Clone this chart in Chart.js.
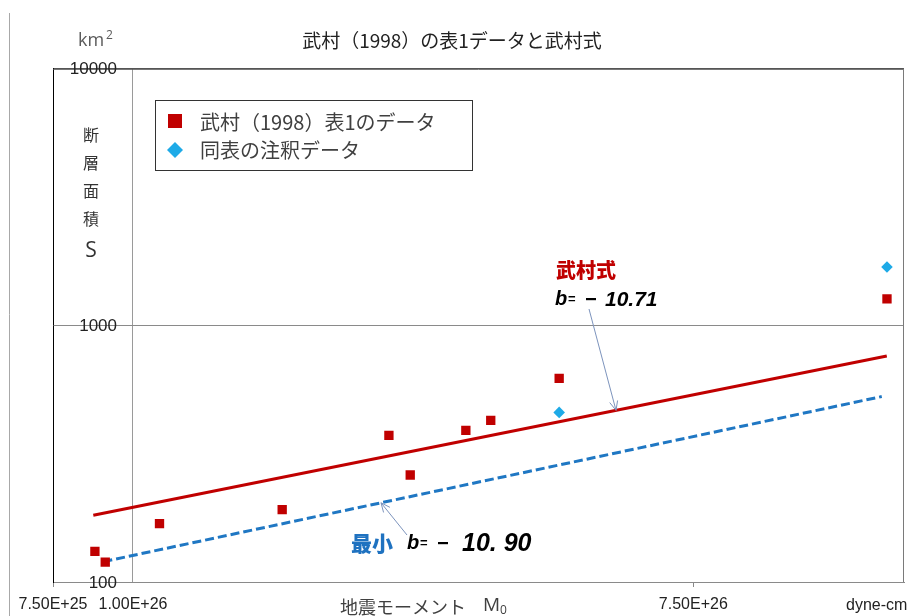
<!DOCTYPE html>
<html>
<head>
<meta charset="utf-8">
<script src="https://cdn.jsdelivr.net/npm/chart.js@4.4.0/dist/chart.umd.min.js"></script>
<style>
  html, body { margin: 0; padding: 0; background: #fff; }
  #wrap { width: 917px; height: 616px; position: relative; }
</style>
</head>
<body>
<div id="wrap"><canvas id="c" width="917" height="616"></canvas></div>
<script>
// ---- data ----
const titleText = '武村（1998）の表1データと武村式';
const seriesNames = ['武村（1998）表1のデータ', '同表の注釈データ', '武村式', '最小'];

// Table 1: seismic moment M0 (dyne-cm) and fault area S (km2)
const tableM0 = [8.72e25, 9.05e25, 1.10e26, 1.71e26, 2.51e26, 2.71e26, 3.31e26, 3.62e26, 4.63e26, 1.505e27];
const tableS  = [131.6, 119.5, 168.8, 191.4, 372.5, 261.3, 389.6, 426.4, 622.0, 1269];

// values from the table notes
const noteM0 = [4.63e26, 1.505e27];
const noteS  = [458, 1688];

// Takemura relation and the minimum-b line (end points)
const takemuraM0 = [8.67e25, 1.504e27];
const takemuraS  = [182, 760];
const minM0 = [8.99e25, 1.477e27];
const minS  = [120, 528];

const takemuraB = '10.71';
const minB = '10. 90';

const xTickValues = [7.5e25, 1e26, 7.5e26];
const xTickLabels = ['7.50E+25', '1.00E+26', '7.50E+26'];
const yTickValues = [100, 1000, 10000];
const yTickLabels = ['100', '1000', '10000'];

const yTitleChars = ['断', '層', '面', '積'];

// ---- helpers ----
const pts = (xs, ys) => xs.map((x, i) => ({ x: x, y: ys[i] }));
const JP = '"Noto Sans CJK JP", "Noto Sans", sans-serif';
const NUM = '"Liberation Sans Narrow", "Liberation Sans", Arial, sans-serif';
const ARIAL = '"Liberation Sans", Arial, sans-serif';

function arrow(ctx, x1, y1, x2, y2) {
  ctx.save();
  ctx.strokeStyle = '#7d94bd';
  ctx.lineWidth = 1;
  ctx.beginPath();
  ctx.moveTo(x1, y1);
  ctx.lineTo(x2, y2);
  const a = Math.atan2(y2 - y1, x2 - x1);
  const L = 10, w = 0.42;
  ctx.moveTo(x2 - L * Math.cos(a - w), y2 - L * Math.sin(a - w));
  ctx.lineTo(x2, y2);
  ctx.lineTo(x2 - L * Math.cos(a + w), y2 - L * Math.sin(a + w));
  ctx.stroke();
  ctx.restore();
}

// pixel y on a two-point line dataset at pixel x
function yOnLine(chart, idx, px) {
  const d = chart.getDatasetMeta(idx).data;
  const p0 = d[0], p1 = d[d.length - 1];
  return p0.y + (p1.y - p0.y) * (px - p0.x) / (p1.x - p0.x);
}

function bText(ctx, x, y, num, numSize, numGap) {
  ctx.fillStyle = '#000';
  ctx.textAlign = 'left';
  ctx.textBaseline = 'middle';
  ctx.font = 'italic bold 20px ' + ARIAL;
  ctx.fillText('b', x, y);
  ctx.font = 'bold 13px ' + ARIAL;
  ctx.fillText('=', x + 13, y);
  ctx.fillRect(x + 31, y - 1, 10, 2.2);
  ctx.font = 'italic bold ' + numSize + 'px ' + ARIAL;
  ctx.fillText(num, x + numGap, y + 1);
}

const decor = {
  id: 'decor',
  beforeDraw(chart) {
    const ctx = chart.ctx;
    ctx.save();
    ctx.fillStyle = '#fff';
    ctx.fillRect(0, 0, chart.width, chart.height);
    ctx.strokeStyle = '#a8a8a8';
    ctx.lineWidth = 1;
    ctx.beginPath();
    ctx.moveTo(9.5, 13);
    ctx.lineTo(9.5, chart.height);
    ctx.stroke();
    ctx.restore();
  },
  afterDraw(chart) {
    const ctx = chart.ctx;
    const a = chart.chartArea;
    ctx.save();

    // plot frame: top and right edges
    ctx.lineWidth = 1;
    ctx.strokeStyle = '#555';
    ctx.beginPath();
    ctx.moveTo(a.left, a.top + 0.5);
    ctx.lineTo(a.right, a.top + 0.5);
    ctx.stroke();
    ctx.strokeStyle = '#7a7a7a';
    ctx.beginPath();
    ctx.moveTo(Math.round(a.right) - 0.5, a.top);
    ctx.lineTo(Math.round(a.right) - 0.5, a.bottom);
    ctx.stroke();

    // y tick labels, right-aligned beside the crossing y axis
    const ys = chart.scales.y;
    ctx.fillStyle = '#222';
    ctx.textBaseline = 'middle';
    ctx.textAlign = 'right';
    ctx.font = '17px ' + ARIAL;
    ys.ticks.forEach((t, i) => ctx.fillText(yTickLabels[i], 117, ys.getPixelForValue(t.value) + 1));

    // unit of the y axis
    ctx.fillStyle = '#5a5a5a';
    ctx.textAlign = 'left';
    ctx.font = '18px "Open Sans", sans-serif';
    ctx.fillText('km', 78, 41);
    ctx.font = '12px "Open Sans", sans-serif';
    ctx.fillText('2', 106, 36);

    // y axis title, stacked vertically
    ctx.fillStyle = '#333';
    ctx.textAlign = 'center';
    ctx.font = '16px ' + JP;
    yTitleChars.forEach((ch, i) => ctx.fillText(ch, 91, 135 + i * 28));
    ctx.font = '21px "Open Sans", sans-serif';
    ctx.fillText('S', 91, 251);

    // x axis title
    ctx.fillStyle = '#404040';
    ctx.textAlign = 'left';
    ctx.font = '18px ' + JP;
    ctx.fillText('地震モーメント', 340, 607);
    ctx.font = '19px "Open Sans", sans-serif';
    ctx.fillText('M', 483, 606);
    ctx.font = '12px "Open Sans", sans-serif';
    ctx.fillText('0', 500, 611);
    ctx.font = '16px ' + NUM;
    ctx.fillStyle = '#222';
    ctx.fillText('dyne-cm', 846, 606);

    // legend
    const ds = chart.data.datasets;
    ctx.fillStyle = '#fff';
    ctx.fillRect(155.5, 100.5, 317, 70);
    ctx.strokeStyle = '#333';
    ctx.strokeRect(155.5, 100.5, 317, 70);
    ctx.fillStyle = ds[0].backgroundColor;
    ctx.fillRect(168, 114, 14, 14);
    ctx.fillStyle = ds[1].backgroundColor;
    ctx.beginPath();
    ctx.moveTo(175, 142); ctx.lineTo(183, 150); ctx.lineTo(175, 158); ctx.lineTo(167, 150);
    ctx.closePath();
    ctx.fill();
    ctx.fillStyle = '#404040';
    ctx.font = '20px ' + JP;
    ctx.textAlign = 'left';
    ctx.fillText(ds[0].label, 200, 122);
    ctx.fillText(ds[1].label, 200, 150);

    // Takemura relation annotation
    ctx.fillStyle = '#c00000';
    ctx.font = '900 20px ' + JP;
    ctx.fillText(ds[2].label, 556, 270);
    bText(ctx, 555, 299, takemuraB, 21, 50);
    arrow(ctx, 589, 309, 616, yOnLine(chart, 2, 616));

    // minimum-b annotation
    ctx.fillStyle = '#1f72c0';
    ctx.font = '900 21px ' + JP;
    ctx.fillText(ds[3].label, 351, 543);
    bText(ctx, 407, 543, minB, 25, 55);
    arrow(ctx, 407, 535, 381, yOnLine(chart, 3, 381));

    ctx.restore();
  }
};

new Chart(document.getElementById('c'), {
  type: 'scatter',
  data: {
    datasets: [
      {
        label: seriesNames[0],
        data: pts(tableM0, tableS),
        pointStyle: 'rect',
        pointRadius: 6.6,
        backgroundColor: '#c00000',
        borderWidth: 0
      },
      {
        label: seriesNames[1],
        data: pts(noteM0, noteS),
        pointStyle: 'rectRot',
        pointRadius: 5.8,
        backgroundColor: '#1eaae7',
        borderWidth: 0
      },
      {
        type: 'line',
        label: seriesNames[2],
        data: pts(takemuraM0, takemuraS),
        borderColor: '#c00000',
        borderWidth: 3,
        pointRadius: 0,
        fill: false
      },
      {
        type: 'line',
        label: seriesNames[3],
        data: pts(minM0, minS),
        borderColor: '#1f77c3',
        borderWidth: 3,
        borderDash: [9, 4],
        pointRadius: 0,
        fill: false
      }
    ]
  },
  options: {
    responsive: false,
    animation: false,
    devicePixelRatio: 1,
    layout: { padding: { left: 0, right: 13, top: 0, bottom: 0 } },
    plugins: {
      legend: { display: false },
      tooltip: { enabled: false },
      title: {
        display: true,
        text: titleText,
        color: '#222',
        font: { family: JP, size: 19, weight: 'normal' },
        padding: { top: 29, bottom: 17 }
      }
    },
    scales: {
      x: {
        type: 'logarithmic',
        min: 7.5e25,
        max: 1.6e27,
        afterBuildTicks: s => { s.ticks = xTickValues.map(v => ({ value: v })); },
        afterFit: s => { s.height = 34; },
        ticks: {
          autoSkip: false,
          maxRotation: 0,
          minRotation: 0,
          padding: 8,
          color: '#222',
          font: { family: NUM, size: 16 },
          callback: (v, i) => xTickLabels[i]
        },
        grid: {
          color: c => (c.tick && c.tick.value === 1e26) ? '#9a9a9a' : 'rgba(0,0,0,0)',
          tickColor: c => (c.tick && c.tick.value === 1e26) ? 'rgba(0,0,0,0)' : '#888',
          tickLength: 5,
          lineWidth: 1
        },
        border: { color: '#8a8a8a', width: 1 }
      },
      y: {
        type: 'logarithmic',
        position: 'left',
        min: 100,
        max: 10000,
        afterBuildTicks: s => { s.ticks = yTickValues.map(v => ({ value: v })); },
        afterFit: s => { s.width = 53; },
        ticks: { display: false },
        grid: {
          drawTicks: false,
          color: c => (c.tick && c.tick.value === 10000) ? '#555' : '#8a8a8a',
          lineWidth: 1
        },
        border: { color: '#000', width: 1 }
      }
    }
  },
  plugins: [decor]
});
</script>
</body>
</html>
